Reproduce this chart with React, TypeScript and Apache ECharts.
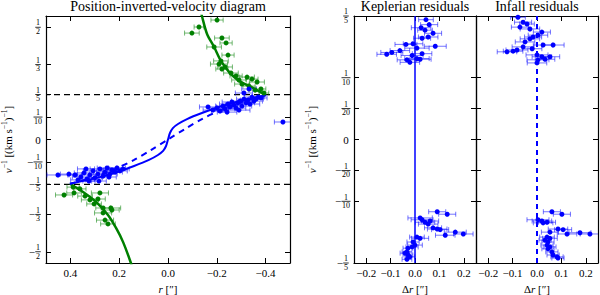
import React, { useEffect, useRef } from "react";
import * as echarts from "echarts";

const FONT = "'Liberation Serif', 'DejaVu Serif', serif";
const BLUE = "#0000ff";
const GREEN = "#008000";

// ---- tick values ----
const leftXTicks = [-0.4, -0.2, 0, 0.2, 0.4];
const leftYTicks = [-0.5, -1 / 3, -0.2, -0.1, 0, 0.1, 0.2, 1 / 3, 0.5];
const resXTicks = [-0.2, -0.1, 0, 0.1, 0.2];
const resYTicks = [-0.2, -0.1, -0.05, 0, 0.05, 0.1, 0.2];
const dashLevels = [0.2, -0.2];

// ---- model curves (r ["], v^-1) ----
const keplerCurve: [number, number][] = [
  [0.402, -0.197], [0.352, -0.185], [0.291, -0.171], [0.209, -0.145], [0.139, -0.118],
  [0.078, -0.091], [0.041, -0.069], [0.02, -0.051], [0.008, -0.029], [0, 0],
  [-0.008, 0.029], [-0.02, 0.051], [-0.041, 0.069], [-0.078, 0.091], [-0.139, 0.118],
  [-0.209, 0.145], [-0.291, 0.171], [-0.352, 0.185], [-0.402, 0.197],
];
const infallCurve: [number, number][] = [
  [0.402, -0.197], [0.311, -0.171], [0.217, -0.131], [0.139, -0.091], [0.07, -0.047],
  [0, 0], [-0.07, 0.047], [-0.139, 0.091], [-0.217, 0.131], [-0.311, 0.171], [-0.402, 0.197],
];
const greenUpperCurve: [number, number][] = [
  [-0.135, 0.57], [-0.139, 0.55], [-0.16, 0.47], [-0.189, 0.412], [-0.217, 0.35],
  [-0.25, 0.301], [-0.291, 0.261], [-0.34, 0.234], [-0.402, 0.197],
];
const greenLowerCurve: [number, number][] = [
  [0.402, -0.197], [0.348, -0.234], [0.295, -0.278], [0.246, -0.336], [0.213, -0.394],
  [0.184, -0.457], [0.152, -0.55], [0.148, -0.57],
];

// ---- measured points: [r, v^-1, error in r] ----
const blueInner: [number, number, number][] = [
  [-0.164, 0.145, 0.035], [-0.184, 0.131, 0.04], [-0.201, 0.14, 0.03], [-0.213, 0.127, 0.035],
  [-0.225, 0.149, 0.03], [-0.234, 0.136, 0.04], [-0.246, 0.158, 0.035], [-0.254, 0.145, 0.03],
  [-0.262, 0.167, 0.04], [-0.27, 0.154, 0.035], [-0.279, 0.14, 0.04], [-0.287, 0.163, 0.03],
  [-0.295, 0.171, 0.035], [-0.303, 0.149, 0.04], [-0.311, 0.18, 0.03], [-0.32, 0.163, 0.035],
  [-0.328, 0.176, 0.03], [-0.336, 0.158, 0.04], [-0.344, 0.189, 0.03], [-0.352, 0.171, 0.035],
  [-0.361, 0.18, 0.03], [-0.369, 0.189, 0.025], [-0.332, 0.225, 0.03], [-0.311, 0.207, 0.035],
  [-0.381, 0.185, 0.025], [-0.291, 0.131, 0.045], [-0.242, 0.122, 0.04], [-0.471, 0.078, 0.035],
  [0.451, -0.158, 0.045], [0.406, -0.154, 0.035], [0.381, -0.158, 0.03], [0.357, -0.167, 0.035],
  [0.344, -0.149, 0.04], [0.332, -0.176, 0.03], [0.32, -0.158, 0.035], [0.307, -0.14, 0.04],
  [0.299, -0.171, 0.03], [0.287, -0.154, 0.035], [0.279, -0.131, 0.04], [0.266, -0.163, 0.03],
  [0.258, -0.145, 0.035], [0.25, -0.127, 0.04], [0.238, -0.154, 0.03], [0.23, -0.136, 0.035],
  [0.217, -0.145, 0.03], [0.209, -0.127, 0.035], [0.197, -0.14, 0.03], [0.184, -0.131, 0.025],
  [0.283, -0.185, 0.03], [0.324, -0.185, 0.025], [0.336, -0.131, 0.035], [0.242, -0.167, 0.03],
  [0.369, -0.18, 0.03],
];
const greenOuter: [number, number, number][] = [
  [-0.201, 0.532, 0.025], [-0.098, 0.474, 0.03], [-0.127, 0.501, 0.02], [-0.221, 0.452, 0.03],
  [-0.238, 0.43, 0.025], [-0.189, 0.412, 0.03], [-0.246, 0.376, 0.025], [-0.217, 0.35, 0.03],
  [-0.209, 0.336, 0.035], [-0.221, 0.314, 0.025], [-0.234, 0.323, 0.03], [-0.258, 0.296, 0.03],
  [-0.279, 0.283, 0.025], [-0.291, 0.265, 0.03], [-0.324, 0.278, 0.03], [-0.344, 0.269, 0.025],
  [-0.365, 0.256, 0.03], [-0.303, 0.247, 0.03], [-0.332, 0.238, 0.025], [-0.357, 0.22, 0.025],
  [-0.381, 0.225, 0.02], [-0.393, 0.207, 0.02],
  [0.426, -0.247, 0.035], [0.385, -0.238, 0.03], [0.34, -0.252, 0.03], [0.32, -0.269, 0.035],
  [0.279, -0.238, 0.035], [0.287, -0.265, 0.03], [0.303, -0.287, 0.03], [0.266, -0.305, 0.03],
  [0.234, -0.305, 0.04], [0.266, -0.327, 0.035], [0.258, -0.359, 0.035], [0.246, -0.376, 0.03],
  [0.389, -0.212, 0.025], [0.361, -0.22, 0.025], [0.23, -0.314, 0.03],
];
const keplerResid: [number, number, number][] = [
  [0.045, 0.194, 0.03], [0.058, 0.186, 0.035], [0.025, 0.181, 0.04], [0.074, 0.172, 0.035],
  [0.054, 0.166, 0.04], [0.029, 0.164, 0.035], [-0.008, 0.155, 0.04], [-0.037, 0.154, 0.045],
  [0.083, 0.151, 0.045], [-0.062, 0.144, 0.04], [-0.095, 0.141, 0.045], [-0.116, 0.138, 0.04],
  [0.008, 0.148, 0.05], [0.029, 0.139, 0.04], [-0.012, 0.136, 0.045], [-0.021, 0.125, 0.04],
  [0.008, 0.131, 0.05], [0.021, 0.13, 0.045], [-0.033, 0.129, 0.04], [0.041, 0.177, 0.03],
  [0.091, -0.117, 0.035], [0.132, -0.121, 0.035], [0.029, -0.13, 0.045], [0.041, -0.134, 0.04],
  [0.062, -0.132, 0.035], [0.021, -0.127, 0.05], [0.054, -0.137, 0.04], [0.091, -0.145, 0.04],
  [0.103, -0.146, 0.035], [0.124, -0.155, 0.04], [0.165, -0.15, 0.045], [0.198, -0.153, 0.04],
  [0.074, -0.143, 0.035], [0.008, -0.158, 0.03], [0.021, -0.16, 0.035], [-0.008, -0.166, 0.025],
  [0, -0.171, 0.03], [-0.012, -0.174, 0.025], [-0.029, -0.176, 0.02], [-0.033, -0.182, 0.02],
  [-0.041, -0.184, 0.02], [-0.029, -0.187, 0.02], [-0.021, -0.19, 0.02], [-0.033, -0.194, 0.02],
];
const infallResid: [number, number, number][] = [
  [-0.078, 0.198, 0.03], [-0.057, 0.19, 0.035], [-0.041, 0.187, 0.03], [-0.07, 0.182, 0.035],
  [-0.029, 0.179, 0.04], [0.02, 0.174, 0.035], [0.004, 0.169, 0.04], [-0.016, 0.166, 0.035],
  [-0.029, 0.163, 0.04], [-0.049, 0.158, 0.04], [0.066, 0.153, 0.045], [0.025, 0.153, 0.04],
  [-0.057, 0.15, 0.045], [-0.098, 0.143, 0.04], [-0.082, 0.145, 0.045], [-0.123, 0.142, 0.04],
  [0, 0.137, 0.045], [0.02, 0.134, 0.04], [0.004, 0.129, 0.045], [0.033, 0.13, 0.04],
  [0.053, 0.134, 0.04], [0, 0.124, 0.04], [-0.02, 0.147, 0.04],
  [0.061, -0.117, 0.035], [0.102, -0.121, 0.035], [0.004, -0.13, 0.045], [0.02, -0.132, 0.04],
  [0.041, -0.134, 0.035], [0.025, -0.135, 0.04], [0.086, -0.145, 0.04], [0.107, -0.146, 0.035],
  [0.123, -0.153, 0.04], [0.176, -0.151, 0.045], [0.217, -0.153, 0.04], [0.053, -0.15, 0.035],
  [0.041, -0.158, 0.03], [0.053, -0.16, 0.03], [0.033, -0.163, 0.025], [0.045, -0.166, 0.025],
  [0.041, -0.171, 0.025], [0.053, -0.174, 0.025], [0.045, -0.177, 0.025], [0.061, -0.182, 0.025],
  [0.066, -0.187, 0.025], [0.082, -0.19, 0.025], [0.086, -0.192, 0.025],
];

const fmtDec = (v: number) => (v < -1e-9 ? "\u2212" : "") + Math.abs(v).toFixed(1);
const fmtFrac = (v: number) => {
  if (Math.abs(v) < 1e-9) return "{z|0}";
  const d = Math.round(1 / Math.abs(v));
  const bar = d >= 10 ? "bw" : "b";
  if (v > 0) return `{n|1}\n{${bar}| }\n{n|${d}}`;
  return `{n|1}\n{m|\u2212}{${bar}| }{p| }\n{n|${d}}`;
};
const fracRich = {
  n: { fontSize: 8, lineHeight: 6.5, align: "center", fontFamily: FONT, color: "#000" },
  b: { width: 5.5, height: 0.8, lineHeight: 2, backgroundColor: "#000", align: "center" },
  bw: { width: 9, height: 0.8, lineHeight: 2, backgroundColor: "#000", align: "center" },
  m: { fontSize: 11, width: 7, lineHeight: 2, align: "center", fontFamily: FONT, color: "#000" },
  p: { width: 7, lineHeight: 2, align: "center" },
  z: { fontSize: 11, fontFamily: FONT, color: "#000" },
};

const axLine = { show: true, onZero: false, lineStyle: { color: "#000", width: 1.2 } };
const ticks = (vals: number[]) => ({
  show: true, inside: true, length: 5, customValues: vals,
  lineStyle: { color: "#000", width: 1 },
});
const nameRich = {
  t: { fontSize: 11, fontFamily: FONT, color: "#000" },
  i: { fontStyle: "italic", fontSize: 11, fontFamily: FONT, color: "#000" },
  s: { fontSize: 7.5, verticalAlign: "top", fontFamily: FONT, color: "#000" },
};
const yNameStyle = { fontSize: 11, fontFamily: FONT, color: "#000", lineHeight: 16, rich: nameRich };
const xNameStyle = { fontSize: 11, fontFamily: FONT, color: "#000", lineHeight: 12, rich: nameRich };
const yName = "{i|v}{s|\u22121}{t| [(km s}{s|\u22121}{t|)}{s|\u22121}{t|]}";

function xAxes(grid: number, min: number, max: number, vals: number[], inverse: boolean, name: string) {
  return [
    {
      type: "value", gridIndex: grid, min, max, inverse, position: "bottom",
      axisLine: axLine, axisTick: ticks(vals), splitLine: { show: false },
      axisLabel: { customValues: vals, formatter: fmtDec, fontFamily: FONT, fontSize: 11, color: "#000", margin: 4 },
      name, nameLocation: "middle", nameGap: 17, nameTextStyle: xNameStyle,
    },
    {
      type: "value", gridIndex: grid, min, max, inverse, position: "top",
      axisLine: axLine, axisTick: ticks(vals), splitLine: { show: false }, axisLabel: { show: false },
    },
  ];
}
function yAxes(grid: number, min: number, max: number, vals: number[], labels: boolean, gap: number) {
  return [
    {
      type: "value", gridIndex: grid, min, max, position: "left",
      axisLine: axLine, axisTick: ticks(vals), splitLine: { show: false },
      axisLabel: labels
        ? { customValues: vals, formatter: fmtFrac, rich: fracRich, align: "center", margin: 8, fontFamily: FONT, fontSize: 10, color: "#000" }
        : { show: false },
      name: labels ? yName : "", nameLocation: "middle", nameGap: gap, nameTextStyle: yNameStyle,
    },
    {
      type: "value", gridIndex: grid, min, max, position: "right",
      axisLine: axLine, axisTick: ticks(vals), splitLine: { show: false }, axisLabel: { show: false },
    },
  ];
}

function errSeries(data: [number, number, number][], color: string, xi: number, yi: number) {
  return {
    type: "custom", xAxisIndex: xi, yAxisIndex: yi, clip: true, z: 3, data,
    encode: { x: 0, y: 1 },
    renderItem: (_p: any, api: any) => {
      const x = api.value(0), y = api.value(1), e = api.value(2);
      const a = api.coord([x - e, y]);
      const b = api.coord([x + e, y]);
      const st = { stroke: color, lineWidth: 1, opacity: 0.55 };
      return {
        type: "group",
        children: [
          { type: "line", shape: { x1: a[0], y1: a[1], x2: b[0], y2: b[1] }, style: st },
          { type: "line", shape: { x1: a[0], y1: a[1] - 2.5, x2: a[0], y2: a[1] + 2.5 }, style: st },
          { type: "line", shape: { x1: b[0], y1: b[1] - 2.5, x2: b[0], y2: b[1] + 2.5 }, style: st },
        ],
      };
    },
  };
}
function dotSeries(data: [number, number, number][], color: string, xi: number, yi: number) {
  return {
    type: "scatter", xAxisIndex: xi, yAxisIndex: yi, z: 4, symbolSize: 5,
    data: data.map((d) => [d[0], d[1]]), itemStyle: { color, opacity: 1 },
  };
}
function lineSeries(data: [number, number][], color: string, width: number, dash: any, xi: number, yi: number, smooth = 0.3) {
  return {
    type: "line", xAxisIndex: xi, yAxisIndex: yi, z: 2, data, smooth, symbol: "none",
    lineStyle: { color, width, type: dash }, clip: true,
  };
}

const titleStyle = { fontSize: 14, fontFamily: FONT, color: "#000", fontWeight: "normal" };
const gridBase = { top: 16, height: 247, outerBoundsMode: "none", containLabel: false };

const option: any = {
  animation: false,
  backgroundColor: "#fff",
  title: [
    { text: "Position-inverted-velocity diagram", left: 168, top: -1, padding: 0, textAlign: "center", textStyle: titleStyle },
    { text: "Keplerian residuals", left: 415, top: -1, padding: 0, textAlign: "center", textStyle: titleStyle },
    { text: "Infall residuals", left: 537, top: -1, padding: 0, textAlign: "center", textStyle: titleStyle },
  ],
  grid: [
    { ...gridBase, left: 46, width: 244 },
    { ...gridBase, left: 354, width: 122 },
    { ...gridBase, left: 476, width: 122 },
  ],
  xAxis: [
    ...xAxes(0, -0.5, 0.5, leftXTicks, true, "{i|r}{t| [\u2033]}"),
    ...xAxes(1, -0.25, 0.25, resXTicks, false, "{t|\u0394}{i|r}{t| [\u2033]}"),
    ...xAxes(2, -0.25, 0.25, resXTicks, false, "{t|\u0394}{i|r}{t| [\u2033]}"),
  ],
  yAxis: [
    ...yAxes(0, -0.55, 0.55, leftYTicks, true, 30),
    ...yAxes(1, -0.2, 0.2, resYTicks, true, 34),
    ...yAxes(2, -0.2, 0.2, resYTicks, false, 0),
  ],
  series: [
    ...dashLevels.map((lv) => ({
      type: "line", xAxisIndex: 0, yAxisIndex: 0, z: 1, symbol: "none",
      data: [[-0.5, lv], [0.5, lv]], lineStyle: { color: "#000", width: 1.3, type: [6, 4] },
    })),
    lineSeries(greenUpperCurve, GREEN, 2.5, "solid", 0, 0),
    lineSeries(greenLowerCurve, GREEN, 2.5, "solid", 0, 0),
    lineSeries(keplerCurve, BLUE, 2, "solid", 0, 0),
    lineSeries(infallCurve, BLUE, 2, [6, 5], 0, 0),
    errSeries(greenOuter, GREEN, 0, 0),
    errSeries(blueInner, BLUE, 0, 0),
    dotSeries(greenOuter, GREEN, 0, 0),
    dotSeries(blueInner, BLUE, 0, 0),
    lineSeries([[0, -0.2], [0, 0.2]], BLUE, 1.5, "solid", 2, 2, 0),
    lineSeries([[0, -0.2], [0, 0.2]], BLUE, 2, [5, 4], 4, 4, 0),
    errSeries(keplerResid, BLUE, 2, 2),
    dotSeries(keplerResid, BLUE, 2, 2),
    errSeries(infallResid, BLUE, 4, 4),
    dotSeries(infallResid, BLUE, 4, 4),
  ],
};

export default function App() {
  const ref = useRef<HTMLDivElement>(null);
  useEffect(() => {
    const chart = echarts.init(ref.current!, null, { renderer: "svg" });
    chart.setOption(option);
    return () => chart.dispose();
  }, []);
  return <div ref={ref} style={{ position: "fixed", left: 0, top: 0, width: 600, height: 295, background: "#fff" }} />;
}
